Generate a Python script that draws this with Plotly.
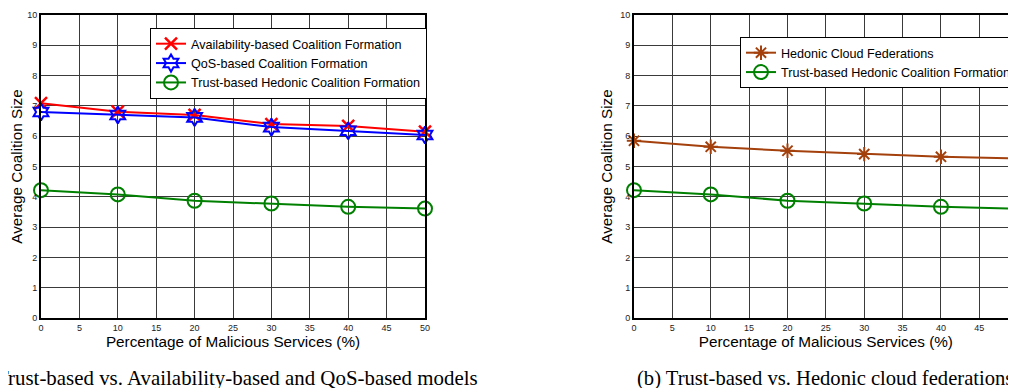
import plotly.graph_objects as go

W, H = 1016, 388
OFF = 8  # page body margin offset

x_pct = [0, 10, 20, 30, 40, 50]
availability = [7.09, 6.81, 6.70, 6.40, 6.34, 6.15]
qos = [6.80, 6.70, 6.62, 6.30, 6.18, 6.04]
trust = [4.22, 4.08, 3.87, 3.78, 3.67, 3.61]
hedonic = [5.85, 5.65, 5.52, 5.41, 5.32, 5.27]

x_ticks = [0, 5, 10, 15, 20, 25, 30, 35, 40, 45, 50]
y_ticks = [0, 1, 2, 3, 4, 5, 6, 7, 8, 9, 10]

x_title = "Percentage of Malicious Services (%)"
y_title = "Average Coalition Size"
caption_a = "(a) Trust-based vs. Availability-based and QoS-based models"
caption_b = "(b) Trust-based vs. Hedonic cloud federations"

RED = "rgb(255,0,0)"
BLUE = "rgb(0,0,255)"
GREEN = "rgb(0,128,0)"
BROWN = "rgb(163,64,12)"

def px(v):
    return (v - OFF) / W

def py(v):
    return 1 - (v - OFF) / H

fig = go.Figure()

fig.add_trace(go.Scatter(x=x_pct, y=availability, mode="lines+markers",
                         name="Availability-based Coalition Formation",
                         line=dict(color=RED, width=2),
                         marker=dict(symbol="x-thin-open", size=12, color=RED,
                                     line=dict(color=RED, width=2.5)),
                         xaxis="x", yaxis="y", legend="legend", cliponaxis=False))
fig.add_trace(go.Scatter(x=x_pct, y=qos, mode="lines+markers",
                         name="QoS-based Coalition Formation",
                         line=dict(color=BLUE, width=2),
                         marker=dict(symbol="hexagram-open", size=13, color=BLUE,
                                     line=dict(color=BLUE, width=2)),
                         xaxis="x", yaxis="y", legend="legend", cliponaxis=False))
fig.add_trace(go.Scatter(x=x_pct, y=trust, mode="lines+markers",
                         name="Trust-based Hedonic Coalition Formation",
                         line=dict(color=GREEN, width=2),
                         marker=dict(symbol="circle-open", size=14, color=GREEN,
                                     line=dict(color=GREEN, width=2)),
                         xaxis="x", yaxis="y", legend="legend", cliponaxis=False))

fig.add_trace(go.Scatter(x=x_pct, y=hedonic, mode="lines+markers",
                         name="Hedonic Cloud Federations",
                         line=dict(color=BROWN, width=2),
                         marker=dict(symbol="asterisk-open", size=12, color=BROWN,
                                     line=dict(color=BROWN, width=2)),
                         xaxis="x2", yaxis="y2", legend="legend2", cliponaxis=False))
fig.add_trace(go.Scatter(x=x_pct, y=trust, mode="lines+markers",
                         name="Trust-based Hedonic Coalition Formation",
                         line=dict(color=GREEN, width=2),
                         marker=dict(symbol="circle-open", size=14, color=GREEN,
                                     line=dict(color=GREEN, width=2)),
                         xaxis="x2", yaxis="y2", legend="legend2", cliponaxis=False))

tickfont = dict(family="Liberation Sans, Arial", size=9, color="#222")
titlefont = dict(family="Liberation Sans, Arial", size=15.3, color="#000")

common_x = dict(tickvals=x_ticks, range=[0, 50], ticks="", showgrid=True, gridcolor="#3a3a3a",
                gridwidth=1, showline=True, linecolor="#000", linewidth=2,
                zeroline=False, tickfont=tickfont, automargin=False,
                title=dict(text=x_title, font=titlefont, standoff=2))
common_y = dict(tickvals=y_ticks, range=[0, 10], ticks="", showgrid=True, gridcolor="#3a3a3a",
                gridwidth=1, showline=True, linecolor="#000", linewidth=2,
                zeroline=False, tickfont=tickfont, automargin=False,
                title=dict(text=y_title, font=titlefont, standoff=4))

legend_font = dict(family="Liberation Sans, Arial", size=12.6, color="#000")

# reference pixel layout: left plot x 41..425, y 15..318; right plot x 634..1018
fig.update_layout(
    width=W, height=H,
    margin=dict(l=0, r=0, t=0, b=0, autoexpand=False),
    paper_bgcolor="white", plot_bgcolor="white",
    xaxis=dict(domain=[px(41), px(425)], mirror=True, anchor="y", **common_x),
    yaxis=dict(domain=[py(318), py(15)], mirror=True, anchor="x", **common_y),
    xaxis2=dict(domain=[px(634), px(1017.7)], mirror=True, anchor="y2", **common_x),
    yaxis2=dict(domain=[py(318), py(15)], mirror=True, anchor="x2", **common_y),
    legend=dict(x=px(150), y=py(28), xanchor="left", yanchor="top",
                bgcolor="white", bordercolor="#000", borderwidth=1,
                font=legend_font, tracegroupgap=0, itemwidth=30),
    legend2=dict(x=px(740), y=py(37), xanchor="left", yanchor="top",
                 bgcolor="white", bordercolor="#000", borderwidth=1,
                 font=legend_font, tracegroupgap=0, itemwidth=30),
    showlegend=True,
)

annotations = [
    dict(text=caption_a, x=px(480), y=py(378), xref="paper", yref="paper",
         xanchor="right", yanchor="middle", showarrow=False,
         font=dict(family="Liberation Serif, Times New Roman", size=20.9, color="#000")),
    dict(text=caption_b, x=px(824.5), y=py(378), xref="paper", yref="paper",
         xanchor="center", yanchor="middle", showarrow=False,
         font=dict(family="Liberation Serif, Times New Roman", size=20.6, color="#000")),
]
fig.update_layout(annotations=annotations)

fig.write_html(
    "out.html",
    post_script="document.documentElement.style.overflow='hidden';"
                "document.body.style.overflow='hidden';",
)
